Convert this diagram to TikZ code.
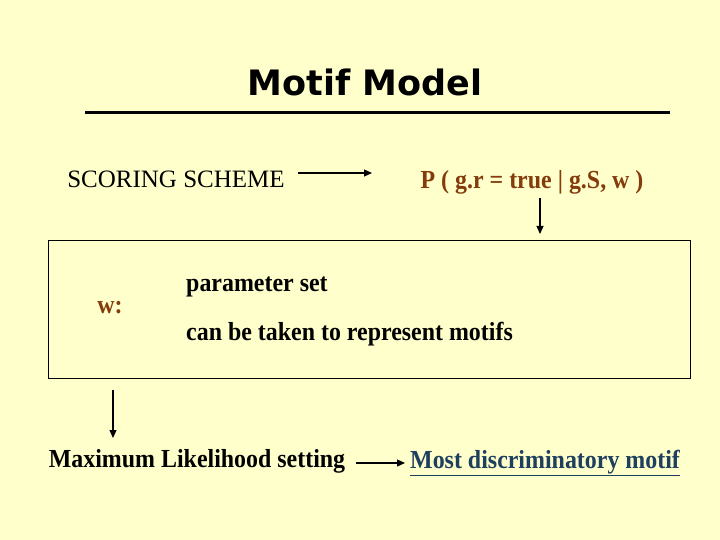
\documentclass[tikz,border=0pt]{standalone}
\usepackage{fontspec}
\setmainfont{Liberation Serif}
\newfontfamily\condfont[FakeStretch=0.92]{Liberation Serif}
\newfontfamily\titlefont{DejaVu Sans}
\usetikzlibrary{arrows.meta}
\definecolor{slidebg}{HTML}{FFFFCC}
\definecolor{rust}{HTML}{843C0C}
\definecolor{linkblue}{HTML}{1F3F5F}
\tikzset{
  txt/.style={inner sep=0pt,font=\condfont\bfseries\fontsize{26}{28}\selectfont},
  arr/.style={line width=1.2pt,-{Triangle[length=8pt,width=7pt]}}
}
\begin{document}
\begin{tikzpicture}[x=1pt,y=-1pt]
\fill[slidebg] (0,0) rectangle (720,540);
\useasboundingbox (0,0) rectangle (720,540);
% title
\node[inner sep=0pt,font=\titlefont\bfseries\fontsize{35}{38}\selectfont] (title) at (365,82) {Motif Model};
\draw[line width=3pt] (85,113) -- (670,113);
% scoring scheme
\node[inner sep=0pt,font=\fontsize{25}{28}\selectfont] (scheme) at (176,179) {SCORING SCHEME};
\node[txt,text=rust] (prob) at (532,182) {P ( g.r = true | g.S, w )};
\coordinate (s1) at (298,173);
\coordinate (s2) at (372,173);
\draw[arr] (s1) -- (s2);
\coordinate (p1) at (540,198);
\coordinate (p2) at (540,234);
\draw[arr] (p1) -- (p2);
% parameter box
\draw[line width=0.8pt] (48,240) rectangle (690,378);
\node[txt,text=rust] (w) at (110,308) {w:};
\node[txt,anchor=west] (param) at (186,287) {parameter set};
\node[txt,anchor=west] (motifs) at (186,334) {can be taken to represent motifs};
\coordinate (b1) at (113,390);
\coordinate (b2) at (113,438);
\draw[arr] (b1) -- (b2);
% result
\node[txt] (ml) at (197,461) {Maximum Likelihood setting};
\node[txt,anchor=west,text=linkblue] (best) at (410,463) {\underline{Most discriminatory motif}};
\coordinate (m1) at (356,463);
\coordinate (m2) at (405,463);
\draw[arr] (m1) -- (m2);
\end{tikzpicture}
\end{document}
